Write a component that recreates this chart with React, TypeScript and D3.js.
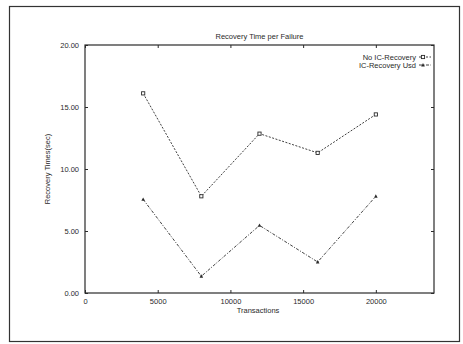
import React, { useEffect, useRef } from 'react';
import * as d3 from 'd3';

const transactions = [4000, 8000, 12000, 16000, 20000];
const noRecovery = [16.1, 7.8, 12.85, 11.3, 14.4];
const recoveryUsed = [7.55, 1.35, 5.45, 2.5, 7.8];
const xTicks = [0, 5000, 10000, 15000, 20000];
const yTicks = [0, 5, 10, 15, 20];
const seriesNames = ['No IC-Recovery', 'IC-Recovery Usd'];

const App = () => {
  const svgRef = useRef<SVGSVGElement>(null);

  useEffect(() => {
    const svg = d3.select(svgRef.current);
    svg.selectAll('*').remove();
    const margin = { top: 45, right: 29, bottom: 51, left: 85 };
    const W = 463;
    const H = 344;
    const width = W - margin.left - margin.right;
    const height = H - margin.top - margin.bottom;
    const font = 'Liberation Sans, Arial, sans-serif';
    const ink = '#2a2a2a';

    svg.append('rect').attr('width', W).attr('height', H).attr('fill', '#fff');

    // outer frame of the figure
    svg.append('rect')
      .attr('x', 9.5).attr('y', 6.5)
      .attr('width', 450).attr('height', 335)
      .attr('fill', 'none').attr('stroke', '#333').attr('stroke-width', 1.2);

    const g = svg.append('g').attr('transform', `translate(${margin.left},${margin.top})`);

    const x = d3.scaleLinear().domain([0, 24000]).range([0, width]);
    const y = d3.scaleLinear().domain([0, 20]).range([height, 0]);

    g.append('rect')
      .attr('width', width).attr('height', height)
      .attr('fill', 'none').attr('stroke', ink).attr('stroke-width', 1.2);

    const styleAxis = (sel: any) => {
      sel.select('.domain').remove();
      sel.selectAll('line').attr('stroke', ink);
      sel.selectAll('text').attr('fill', ink).style('font-family', font).style('font-size', '7.5px');
    };

    g.append('g').attr('transform', `translate(0,${height})`)
      .call(d3.axisBottom(x).tickValues(xTicks).tickSize(-3).tickPadding(6).tickFormat(d3.format('d')))
      .call(styleAxis);
    g.append('g')
      .call(d3.axisTop(x).tickValues(xTicks).tickSize(-3).tickFormat(() => ''))
      .call(styleAxis);
    g.append('g')
      .call(d3.axisLeft(y).tickValues(yTicks).tickSize(-3).tickPadding(6).tickFormat(d3.format('.2f')))
      .call(styleAxis);
    g.append('g').attr('transform', `translate(${width},0)`)
      .call(d3.axisRight(y).tickValues(yTicks).tickSize(-3).tickFormat(() => ''))
      .call(styleAxis);

    // titles
    svg.append('text').attr('x', margin.left + width / 2).attr('y', 39)
      .attr('text-anchor', 'middle').attr('fill', ink)
      .style('font-family', font).style('font-size', '7.5px')
      .text('Recovery Time per Failure');
    svg.append('text').attr('x', 258).attr('y', 313)
      .attr('text-anchor', 'middle').attr('fill', ink)
      .style('font-family', font).style('font-size', '7.5px')
      .text('Transactions');
    svg.append('text')
      .attr('transform', `translate(50,${margin.top + height / 2}) rotate(-90)`)
      .attr('text-anchor', 'middle').attr('fill', ink)
      .style('font-family', font).style('font-size', '7.5px')
      .text('Recovery Times(sec)');

    const line = d3.line<number>()
      .x((d, i) => x(transactions[i]))
      .y(d => y(d));

    const series = [
      { values: noRecovery, dash: '2,1.5', marker: 'square' },
      { values: recoveryUsed, dash: '3,1.5,1,1.5', marker: 'triangle' },
    ];

    const drawMarker = (sel: any, kind: string, cx: number, cy: number) => {
      if (kind === 'square') {
        sel.append('rect').attr('x', cx - 1.6).attr('y', cy - 1.6)
          .attr('width', 3.2).attr('height', 3.2)
          .attr('fill', '#fff').attr('stroke', ink).attr('stroke-width', 0.9);
      } else {
        sel.append('path')
          .attr('d', `M${cx},${cy - 2}L${cx + 1.8},${cy + 1.4}L${cx - 1.8},${cy + 1.4}Z`)
          .attr('fill', ink);
      }
    };

    series.forEach(s => {
      g.append('path').datum(s.values)
        .attr('d', line)
        .attr('fill', 'none').attr('stroke', ink).attr('stroke-width', 0.9)
        .attr('stroke-dasharray', s.dash);
      s.values.forEach((v, i) => drawMarker(g, s.marker, x(transactions[i]), y(v)));
    });

    // legend
    seriesNames.forEach((name, i) => {
      const ly = 57 + i * 8;
      svg.append('text').attr('x', 416).attr('y', ly + 2.5)
        .attr('text-anchor', 'end').attr('fill', ink)
        .style('font-family', font).style('font-size', '7.5px')
        .text(name);
      svg.append('line').attr('x1', 419).attr('x2', 431).attr('y1', ly).attr('y2', ly)
        .attr('stroke', ink).attr('stroke-width', 0.9).attr('stroke-dasharray', series[i].dash);
      drawMarker(svg, series[i].marker, 423, ly);
    });
  }, []);

  return <svg ref={svgRef} width={463} height={344} style={{ position: 'absolute', left: 0, top: 0 }} />;
};

export default App;
